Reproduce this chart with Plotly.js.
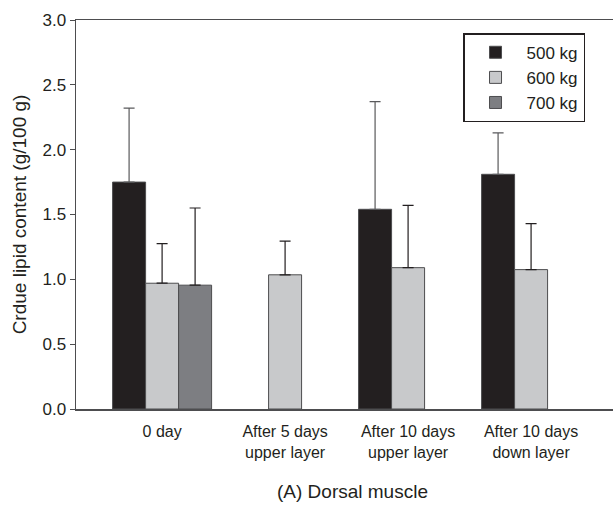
<!DOCTYPE html>
<html>
<head>
<meta charset="utf-8">
<script src="https://cdn.plot.ly/plotly-3.0.1.min.js"></script>
<style>html,body{margin:0;padding:0;background:#fff;}#chart{width:614px;height:511px;}</style>
</head>
<body>
<div id="chart"></div>
<script>
var categories = ["0 day", "After 5 days<br>upper layer", "After 10 days<br>upper layer", "After 10 days<br>down layer"];
var seriesNames = ["500 kg", "600 kg", "700 kg"];
var values500 = [1.75, null, 1.54, 1.81];
var errors500 = [0.57, null, 0.83, 0.32];
var values600 = [0.97, 1.035, 1.09, 1.075];
var errors600 = [0.305, 0.26, 0.48, 0.355];
var values700 = [0.955, null, null, null];
var errors700 = [0.595, null, null, null];
var yTicks = [0, 0.5, 1.0, 1.5, 2.0, 2.5, 3.0];
var yTickLabels = ["0.0", "0.5", "1.0", "1.5", "2.0", "2.5", "3.0"];

var ink = "#231f20";
var font = "Liberation Sans, Arial, Helvetica, sans-serif";

function barTrace(name, vals, errs, color, errColor) {
  return {
    type: "bar",
    name: name,
    x: categories,
    y: vals,
    marker: {color: color, line: {color: "#4d4d4f", width: 1}},
    error_y: {
      type: "data",
      symmetric: false,
      array: errs,
      arrayminus: errs.map(function () { return 0; }),
      color: errColor,
      thickness: 1.2,
      width: 5.5
    }
  };
}

var data = [
  barTrace(seriesNames[0], values500, errors500, ink, "#5a5a5c"),
  barTrace(seriesNames[1], values600, errors600, "#c8c9cb", ink),
  barTrace(seriesNames[2], values700, errors700, "#7d7e82", ink)
];

var layout = {
  width: 614,
  height: 511,
  margin: {l: 76, r: 1, t: 20, b: 102},
  paper_bgcolor: "#fff",
  plot_bgcolor: "#fff",
  font: {family: font, size: 17, color: ink},
  barmode: "group",
  bargap: 0.195,
  bargroupgap: 0,
  showlegend: true,
  legend: {
    x: 0.7207, y: 0.966, xanchor: "left", yanchor: "top",
    bordercolor: ink, borderwidth: 1.5, bgcolor: "#fff",
    font: {family: font, size: 17, color: ink},
    itemwidth: 52,
    tracegroupgap: 0
  },
  xaxis: {
    type: "category",
    range: [-0.7, 3.666],
    showline: true, linecolor: "#4d4d4f", linewidth: 1.5,
    mirror: true,
    ticks: "",
    showgrid: false,
    zeroline: false,
    tickfont: {family: font, size: 16, color: ink},
    ticklabelstandoff: 7
  },
  yaxis: {
    range: [0, 3],
    tickvals: yTicks,
    ticktext: yTickLabels,
    ticks: "outside", ticklen: 5, tickcolor: "#4d4d4f", tickwidth: 1,
    showline: true, linecolor: "#4d4d4f", linewidth: 1.5,
    showgrid: false, zeroline: false,
    tickfont: {family: font, size: 17, color: ink},
    title: {text: "Crdue lipid content (g/100 g)", font: {family: font, size: 19, color: ink}, standoff: 11}
  },
  annotations: [{
    text: "(A) Dorsal muscle",
    xref: "paper", yref: "paper",
    x: 0.514, y: -0.213, xanchor: "center", yanchor: "middle",
    showarrow: false,
    font: {family: font, size: 19, color: ink}
  }]
};

Plotly.newPlot("chart", data, layout, {displayModeBar: false, staticPlot: true});
</script>
</body>
</html>
